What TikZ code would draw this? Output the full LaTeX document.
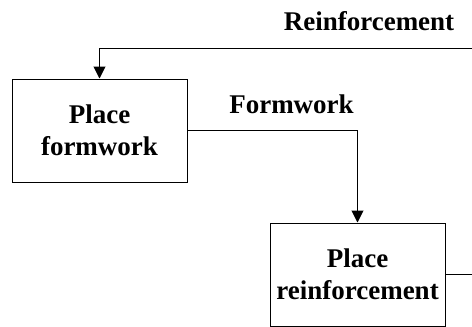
\documentclass[tikz,border=0pt]{standalone}
\usepackage{fontspec}
\setmainfont{Liberation Serif}
\usetikzlibrary{arrows.meta}
\begin{document}
\begin{tikzpicture}[x=1pt,y=-1pt,
  lbl/.style={font=\fontsize{27}{31.5}\selectfont\bfseries, inner sep=0pt},
  stepbox/.style={draw, line width=1pt, minimum width=175pt, minimum height=103pt, align=center, font=\fontsize{27}{31.5}\selectfont\bfseries, inner sep=0pt},
  conn/.style={line width=1pt},
  arr/.style={conn, -{Triangle[width=12pt,length=12pt]}}]
\useasboundingbox (0,0) rectangle (472,327);
\node[stepbox] (pf) at (99.5,130.5) {Place\\formwork};
\node[stepbox] (pr) at (357.5,274.5) {Place\\reinforcement};
\coordinate (rin) at (472,48);
\coordinate (rout) at (472,274.5);
\node[lbl, anchor=base] (lr) at (369,30) {Reinforcement};
\node[lbl, anchor=base] (lf) at (291.5,113) {Formwork};
\draw[arr] (rin) -| (pf.north);
\draw[arr] (pf.east) -| (pr.north);
\draw[conn] (pr.east) -- (rout);
\end{tikzpicture}
\end{document}
